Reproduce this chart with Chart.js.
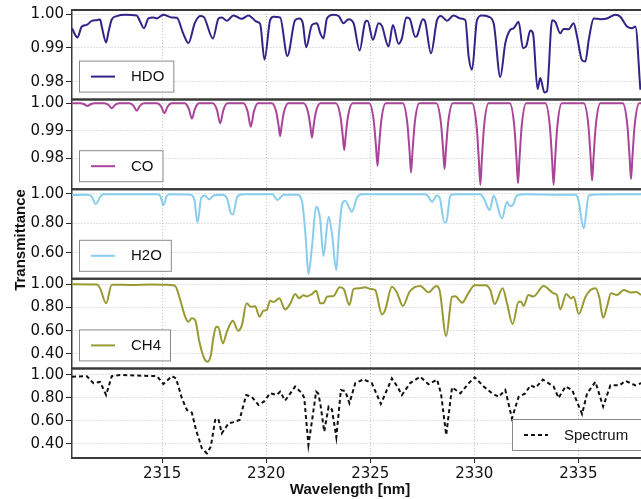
<!DOCTYPE html>
<html>
<head>
<meta charset="utf-8">
<script src="https://cdn.jsdelivr.net/npm/chart.js@4.4.0/dist/chart.umd.min.js"></script>
<style>
  html, body { margin: 0; padding: 0; background: #fff; }
  canvas { display: block; }
</style>
</head>
<body>
<canvas id="chart" width="641" height="499"></canvas>
<script>
// values
const xTicks = [2315, 2320, 2325, 2330, 2335];
const hdoTicks = [0.98, 0.99, 1.00];
const coTicks = [0.98, 0.99, 1.00];
const h2oTicks = [0.60, 0.80, 1.00];
const ch4Ticks = [0.40, 0.60, 0.80, 1.00];
const specTicks = [0.40, 0.60, 0.80, 1.00];

const hdoWl = [2310.67, 2310.93, 2311.14, 2311.38, 2311.62, 2311.86, 2312.02, 2312.10, 2312.31, 2312.41,
  2312.58, 2312.82, 2313.22, 2313.78, 2313.91, 2314.13, 2314.34, 2314.58, 2314.75, 2315.06,
  2315.47, 2315.71, 2316.01, 2316.26, 2316.57, 2316.83, 2316.99, 2317.44, 2317.71, 2317.87,
  2318.11, 2318.43, 2318.83, 2319.15, 2319.55, 2319.71, 2319.92, 2320.19, 2320.35, 2320.67,
  2321.02, 2321.39, 2321.60, 2321.76, 2321.92, 2322.20, 2322.44, 2322.60, 2322.75, 2322.92,
  2323.24, 2323.48, 2323.72, 2323.96, 2324.20, 2324.49, 2324.76, 2324.87, 2325.13, 2325.40,
  2325.56, 2325.88, 2326.09, 2326.36, 2326.52, 2326.73, 2326.89, 2327.16, 2327.24, 2327.53,
  2327.64, 2327.92, 2328.21, 2328.40, 2328.69, 2329.00, 2329.33, 2329.57, 2329.73, 2329.89,
  2330.13, 2330.37, 2330.69, 2330.93, 2331.25, 2331.49, 2331.73, 2331.89, 2332.13, 2332.34,
  2332.50, 2332.69, 2332.82, 2333.04, 2333.17, 2333.37, 2333.49, 2333.74, 2333.89, 2334.13,
  2334.29, 2334.53, 2334.77, 2334.94, 2335.18, 2335.34, 2335.50, 2335.74, 2336.06, 2336.38,
  2336.78, 2337.02, 2337.34, 2337.58, 2337.74, 2337.98];
const hdoT = [0.9958, 0.9931, 0.9963, 0.9968, 0.9980, 0.9982, 0.9984, 0.9963, 0.9916, 0.9943,
  0.9984, 0.9994, 0.9998, 0.9996, 0.9982, 0.9958, 0.9987, 0.9990, 0.9987, 0.9998,
  0.9990, 0.9989, 0.9943, 0.9914, 0.9973, 0.9994, 0.9992, 0.9928, 0.9987, 0.9990,
  0.9980, 0.9996, 0.9986, 0.9996, 0.9977, 0.9971, 0.9865, 0.9982, 0.9992, 0.9990,
  0.9876, 0.9982, 0.9987, 0.9973, 0.9902, 0.9968, 0.9973, 0.9943, 0.9928, 0.9987,
  0.9998, 0.9994, 0.9973, 0.9985, 0.9973, 0.9892, 0.9977, 0.9980, 0.9924, 0.9973,
  0.9965, 0.9904, 0.9968, 0.9912, 0.9928, 0.9990, 0.9987, 0.9933, 0.9935, 0.9985,
  0.9977, 0.9884, 0.9982, 0.9994, 0.9980, 0.9996, 0.9987, 0.9982, 0.9874, 0.9835,
  0.9982, 0.9996, 0.9992, 0.9973, 0.9814, 0.9914, 0.9953, 0.9958, 0.9977, 0.9899,
  0.9906, 0.9951, 0.9943, 0.9778, 0.9811, 0.9768, 0.9771, 0.9982, 0.9977, 0.9943,
  0.9956, 0.9955, 0.9973, 0.9933, 0.9863, 0.9860, 0.9924, 0.9987, 0.9985, 0.9987,
  0.9998, 0.9992, 0.9963, 0.9958, 0.9963, 0.9776];

const coWl = [2310.67,
  2311.06, 2311.26, 2311.41, 2311.56, 2311.76,
  2312.23, 2312.43, 2312.58, 2312.73, 2312.93,
  2313.43, 2313.63, 2313.78, 2313.93, 2314.13,
  2314.76, 2314.96, 2315.11, 2315.26, 2315.46,
  2316.08, 2316.28, 2316.43, 2316.58, 2316.78,
  2317.44, 2317.64, 2317.79, 2317.94, 2318.14,
  2318.91, 2319.11, 2319.26, 2319.41, 2319.61,
  2320.27, 2320.49, 2320.60, 2320.67, 2320.74, 2320.85, 2321.07,
  2321.80, 2322.02, 2322.13, 2322.20, 2322.27, 2322.38, 2322.60,
  2323.35, 2323.57, 2323.68, 2323.75, 2323.82, 2323.93, 2324.15,
  2324.95, 2325.17, 2325.28, 2325.35, 2325.42, 2325.53, 2325.75,
  2326.56, 2326.78, 2326.89, 2326.96, 2327.03, 2327.14, 2327.36,
  2328.17, 2328.39, 2328.50, 2328.57, 2328.64, 2328.75, 2328.97,
  2329.89, 2330.11, 2330.22, 2330.29, 2330.36, 2330.47, 2330.69,
  2331.70, 2331.92, 2332.03, 2332.10, 2332.17, 2332.28, 2332.50,
  2333.41, 2333.63, 2333.74, 2333.81, 2333.88, 2333.99, 2334.21,
  2335.26, 2335.48, 2335.59, 2335.66, 2335.73, 2335.84, 2336.06,
  2337.13, 2337.35, 2337.46, 2337.53, 2337.60, 2337.71, 2337.93,
  2338.03];
const coT = [1.0000,
  1.0000, 0.99965, 0.9990, 0.99965, 1.0000,
  1.0000, 0.99937, 0.9982, 0.99937, 1.0000,
  1.0000, 0.99906, 0.9973, 0.99906, 1.0000,
  1.0000, 0.99874, 0.9964, 0.99874, 1.0000,
  1.0000, 0.99807, 0.9945, 0.99807, 1.0000,
  1.0000, 0.99745, 0.9927, 0.99745, 1.0000,
  1.0000, 0.99703, 0.9915, 0.99703, 1.0000,
  1.0000, 0.9967, 0.9917, 0.9881, 0.9917, 0.9967, 1.0000,
  1.0000, 0.9965, 0.9913, 0.9875, 0.9913, 0.9965, 1.0000,
  1.0000, 0.9952, 0.9881, 0.9830, 0.9881, 0.9952, 1.0000,
  1.0000, 0.9936, 0.9840, 0.9772, 0.9840, 0.9936, 1.0000,
  1.0000, 0.9929, 0.9824, 0.9748, 0.9824, 0.9929, 1.0000,
  1.0000, 0.9933, 0.9833, 0.9761, 0.9833, 0.9933, 1.0000,
  1.0000, 0.9917, 0.9792, 0.9703, 0.9792, 0.9917, 1.0000,
  1.0000, 0.9919, 0.9796, 0.9709, 0.9796, 0.9919, 1.0000,
  1.0000, 0.9917, 0.9792, 0.9703, 0.9792, 0.9917, 1.0000,
  1.0000, 0.9921, 0.9803, 0.9719, 0.9803, 0.9921, 1.0000,
  1.0000, 0.9923, 0.9807, 0.9724, 0.9807, 0.9923, 1.0000,
  1.0000];

const h2oWl = [2310.67, 2311.37, 2311.60, 2311.81, 2312.05, 2312.18, 2314.75, 2314.92, 2315.06, 2315.22,
  2315.38, 2316.35, 2316.55, 2316.70, 2316.88, 2317.05, 2317.27, 2317.47, 2317.87, 2318.11,
  2318.30, 2318.40, 2318.62, 2318.91, 2320.30, 2320.54, 2320.83, 2321.48, 2321.72, 2321.90,
  2322.03, 2322.20, 2322.40, 2322.51, 2322.60, 2322.75, 2323.00, 2323.16, 2323.37, 2323.48,
  2323.64, 2323.80, 2324.12, 2324.36, 2324.60, 2327.56, 2327.75, 2327.97, 2328.21, 2328.33,
  2328.57, 2328.65, 2328.85, 2329.09, 2330.29, 2330.45, 2330.74, 2330.93, 2331.33, 2331.57,
  2331.70, 2331.85, 2332.05, 2332.50, 2334.00, 2334.86, 2335.00, 2335.26, 2335.50, 2335.90,
  2338.03];
const h2oT = [0.993, 0.995, 0.985, 0.932, 0.985, 0.998, 0.998, 0.985, 0.925, 0.985,
  0.998, 0.995, 0.960, 0.804, 0.975, 0.990, 0.962, 0.990, 0.995, 0.975,
  0.870, 0.860, 0.985, 0.998, 0.998, 0.959, 0.995, 0.995, 0.950, 0.700,
  0.454, 0.640, 0.913, 0.890, 0.822, 0.577, 0.845, 0.730, 0.481, 0.700,
  0.925, 0.954, 0.879, 0.975, 0.998, 0.998, 0.990, 0.948, 0.990, 0.977,
  0.806, 0.806, 0.990, 0.998, 0.998, 0.971, 0.891, 0.990, 0.834, 0.948,
  0.918, 0.925, 0.990, 0.998, 0.995, 0.995, 0.960, 0.766, 0.990, 0.997,
  0.998];

const ch4Wl = [2310.67, 2311.86, 2312.02, 2312.31, 2312.58, 2313.50, 2314.50, 2315.38, 2315.63, 2315.87,
  2316.11, 2316.26, 2316.43, 2316.59, 2316.79, 2317.02, 2317.18, 2317.34, 2317.47, 2317.60,
  2317.70, 2317.92, 2318.11, 2318.40, 2318.65, 2318.83, 2319.06, 2319.26, 2319.47, 2319.68,
  2319.87, 2320.03, 2320.19, 2320.35, 2320.63, 2320.91, 2321.15, 2321.39, 2321.59, 2321.79,
  2321.95, 2322.20, 2322.40, 2322.60, 2322.75, 2322.92, 2323.24, 2323.53, 2323.72, 2324.00,
  2324.20, 2324.50, 2324.76, 2325.00, 2325.24, 2325.56, 2325.72, 2326.04, 2326.28, 2326.57,
  2326.89, 2327.40, 2327.80, 2328.17, 2328.33, 2328.65, 2328.93, 2329.09, 2329.41, 2329.73,
  2330.02, 2330.53, 2330.77, 2330.98, 2331.36, 2331.57, 2331.84, 2332.13, 2332.25, 2332.37,
  2332.60, 2332.84, 2333.33, 2333.81, 2333.97, 2334.13, 2334.42, 2334.65, 2334.77, 2335.02,
  2335.34, 2335.58, 2335.82, 2336.00, 2336.19, 2336.38, 2336.57, 2336.86, 2337.18, 2337.50,
  2337.79, 2338.01];
const ch4T = [1.000, 0.998, 0.965, 0.836, 0.997, 0.995, 0.998, 0.995, 0.985, 0.865,
  0.720, 0.678, 0.707, 0.690, 0.505, 0.362, 0.333, 0.390, 0.548, 0.634,
  0.630, 0.491, 0.591, 0.686, 0.600, 0.646, 0.836, 0.807, 0.810, 0.721,
  0.773, 0.780, 0.859, 0.848, 0.879, 0.784, 0.830, 0.916, 0.880, 0.905,
  0.895, 0.916, 0.945, 0.836, 0.836, 0.893, 0.900, 0.974, 0.960, 0.822,
  0.960, 0.967, 0.974, 0.960, 0.950, 0.741, 0.780, 0.979, 0.930, 0.813,
  0.936, 0.985, 0.931, 0.985, 0.950, 0.554, 0.893, 0.897, 0.841, 0.928,
  0.991, 0.991, 0.950, 0.830, 0.966, 0.838, 0.658, 0.850, 0.850, 0.813,
  0.908, 0.895, 0.985, 0.922, 0.908, 0.784, 0.916, 0.878, 0.893, 0.744,
  0.890, 0.950, 0.966, 0.893, 0.712, 0.810, 0.922, 0.908, 0.951, 0.930,
  0.933, 0.908];

const specWl = [2310.67, 2311.38, 2311.70, 2312.02, 2312.31, 2312.58, 2312.98, 2314.75, 2315.06, 2315.47,
  2315.67, 2315.95, 2316.19, 2316.43, 2316.63, 2316.91, 2317.15, 2317.34, 2317.55, 2317.70,
  2317.87, 2318.19, 2318.43, 2318.72, 2319.04, 2319.31, 2319.63, 2319.90, 2320.19, 2320.50,
  2320.67, 2320.91, 2321.39, 2321.72, 2321.83, 2322.03, 2322.20, 2322.40, 2322.50, 2322.60,
  2322.79, 2323.00, 2323.16, 2323.37, 2323.59, 2323.80, 2324.00, 2324.28, 2324.68, 2325.08,
  2325.51, 2326.04, 2326.30, 2326.52, 2326.92, 2327.40, 2327.80, 2328.21, 2328.40, 2328.65,
  2328.93, 2329.33, 2329.73, 2330.02, 2330.45, 2330.85, 2331.17, 2331.49, 2331.81, 2332.13,
  2332.45, 2332.69, 2332.95, 2333.30, 2333.81, 2334.05, 2334.38, 2334.70, 2335.18, 2335.42,
  2335.82, 2336.19, 2336.54, 2336.98, 2337.26, 2337.74, 2338.03];
const specT = [0.985, 0.990, 0.928, 0.940, 0.826, 0.990, 1.000, 0.990, 0.922, 0.990,
  0.970, 0.797, 0.696, 0.672, 0.522, 0.363, 0.319, 0.377, 0.609, 0.620,
  0.493, 0.580, 0.590, 0.609, 0.826, 0.810, 0.739, 0.770, 0.841, 0.826,
  0.855, 0.777, 0.899, 0.841, 0.800, 0.391, 0.600, 0.855, 0.840, 0.754,
  0.507, 0.725, 0.700, 0.458, 0.870, 0.860, 0.754, 0.928, 0.962, 0.928,
  0.748, 0.970, 0.900, 0.826, 0.930, 0.985, 0.920, 0.960, 0.840, 0.478,
  0.893, 0.841, 0.928, 0.980, 0.900, 0.841, 0.810, 0.870, 0.623, 0.810,
  0.840, 0.910, 0.890, 0.960, 0.900, 0.800, 0.900, 0.870, 0.661, 0.840,
  0.940, 0.725, 0.910, 0.910, 0.950, 0.910, 0.930];

Chart.defaults.font.family = "'DejaVu Sans', sans-serif";
Chart.defaults.font.size = 15;
Chart.defaults.color = '#111';

const gridColor = '#c4c4c4';
const frameColor = '#3a3a3a';

function pts(wl, t) {
    return wl.map((x, i) => ({ x: x, y: t[i] }));
}

function yAxis(ticks, min, max, weight) {
    return {
        type: 'linear',
        position: 'left',
        stack: 'panels',
        stackWeight: 1,
        weight: weight,
        min: min,
        max: max,
        afterBuildTicks: s => { s.ticks = ticks.map(v => ({ value: v })); },
        afterFit: s => { s.width = 72; s.paddingTop = 0; s.paddingBottom = 0; },
        ticks: { callback: v => Number(v).toFixed(2), padding: 2, color: '#111', autoSkip: false },
        grid: { color: gridColor, lineWidth: 1, tickLength: 6, tickColor: '#222', tickWidth: 1 },
        border: { display: true, color: frameColor, width: 1.5, dash: [1, 2] }
    };
}

function line(label, axis, data, color, extra) {
    return Object.assign({
        label: label,
        yAxisID: axis,
        data: data,
        borderColor: color,
        backgroundColor: color,
        borderWidth: 2,
        pointRadius: 0,
        fill: false,
        cubicInterpolationMode: 'monotone'
    }, extra || {});
}

// frames between panels, in-panel legends and axis titles
const panelDecor = {
    id: 'panelDecor',
    beforeDraw(chart) {
        const ctx = chart.ctx;
        ctx.save();
        ctx.fillStyle = '#fff';
        ctx.fillRect(0, 0, chart.width, chart.height);
        ctx.restore();
    },
    afterDatasetsDraw(chart, args, opts) {
        const ctx = chart.ctx;
        const a = chart.chartArea;
        ctx.save();
        ctx.strokeStyle = frameColor;
        ctx.lineWidth = 2;
        chart.data.datasets.forEach(ds => {
            const s = chart.scales[ds.yAxisID];
            [s.top, s.bottom].forEach(y => {
                ctx.beginPath();
                ctx.moveTo(a.left, y);
                ctx.lineTo(a.right, y);
                ctx.stroke();
            });
        });

        ctx.font = opts.legendFont;
        chart.data.datasets.forEach((ds, i) => {
            const p = opts.legends[i];
            const s = chart.scales[ds.yAxisID];
            const tw = ctx.measureText(ds.label).width;
            const w = Math.max(p.minWidth || 0, 12 + 24 + 16 + tw + 9);
            const h = 31;
            const x = a.left + p.offsetX;
            const y = s.bottom - 8 - h;
            ctx.setLineDash([]);
            ctx.fillStyle = 'rgba(255,255,255,0.85)';
            ctx.fillRect(x, y, w, h);
            ctx.strokeStyle = '#8a8a8a';
            ctx.lineWidth = 1;
            ctx.strokeRect(x + 0.5, y + 0.5, w, h);
            ctx.strokeStyle = ds.borderColor;
            ctx.lineWidth = ds.borderWidth;
            ctx.setLineDash(ds.borderDash || []);
            ctx.beginPath();
            ctx.moveTo(x + 12, y + h / 2 + 0.5);
            ctx.lineTo(x + 36, y + h / 2 + 0.5);
            ctx.stroke();
            ctx.setLineDash([]);
            ctx.fillStyle = '#111';
            ctx.textBaseline = 'middle';
            ctx.textAlign = 'left';
            ctx.fillText(ds.label, x + 52, y + h / 2 + 1);
        });
        ctx.restore();
    },
    afterDraw(chart, args, opts) {
        const ctx = chart.ctx;
        ctx.save();
        ctx.font = opts.titleFont;
        ctx.fillStyle = '#111';
        ctx.textAlign = 'center';
        ctx.textBaseline = 'middle';
        ctx.fillText(opts.xTitle, 350, 490);
        ctx.translate(21, 240);
        ctx.rotate(-Math.PI / 2);
        ctx.fillText(opts.yTitle, 0, 0);
        ctx.restore();
    }
};

new Chart(document.getElementById('chart'), {
    type: 'line',
    data: {
        datasets: [
            line('HDO', 'yHDO', pts(hdoWl, hdoT), '#332288'),
            line('CO', 'yCO', pts(coWl, coT), '#AA4499'),
            line('H2O', 'yH2O', pts(h2oWl, h2oT), '#88CCEE'),
            line('CH4', 'yCH4', pts(ch4Wl, ch4T), '#999933'),
            line('Spectrum', 'ySpec', pts(specWl, specT), '#111111',
                { borderDash: [4, 3], cubicInterpolationMode: 'default', tension: 0 })
        ]
    },
    options: {
        responsive: false,
        animation: false,
        layout: { padding: { top: 10, left: 0, right: 0, bottom: 0 } },
        scales: {
            x: {
                type: 'linear',
                position: 'bottom',
                min: 2310.67,
                max: 2338.01,
                afterBuildTicks: s => { s.ticks = xTicks.map(v => ({ value: v })); },
                afterFit: s => { s.height = 41; s.paddingLeft = 0; s.paddingRight = 0; },
                ticks: { callback: v => String(v), padding: 2, maxRotation: 0, autoSkip: false, color: '#111' },
                grid: { color: gridColor, lineWidth: 1, tickLength: 5, tickColor: '#222', tickWidth: 1 },
                border: { display: true, color: frameColor, width: 2, dash: [1, 2] }
            },
            yHDO: yAxis(hdoTicks, 0.9747, 1.0012, 5),
            yCO: yAxis(coTicks, 0.96876, 1.00135, 4),
            yH2O: yAxis(h2oTicks, 0.4222, 1.0327, 3),
            yCH4: yAxis(ch4Ticks, 0.276, 1.0473, 2),
            ySpec: yAxis(specTicks, 0.278, 1.0574, 1)
        },
        plugins: {
            legend: { display: false },
            tooltip: { enabled: false },
            panelDecor: {
                legendFont: "15px 'Liberation Sans', Arial, sans-serif",
                titleFont: "bold 15px 'Liberation Sans', Arial, sans-serif",
                xTitle: 'Wavelength [nm]',
                yTitle: 'Transmittance',
                legends: [
                    { offsetX: 7 },
                    { offsetX: 7 },
                    { offsetX: 7 },
                    { offsetX: 7 },
                    { offsetX: 440, minWidth: 140 }
                ]
            }
        }
    },
    plugins: [panelDecor]
});
</script>
</body>
</html>
